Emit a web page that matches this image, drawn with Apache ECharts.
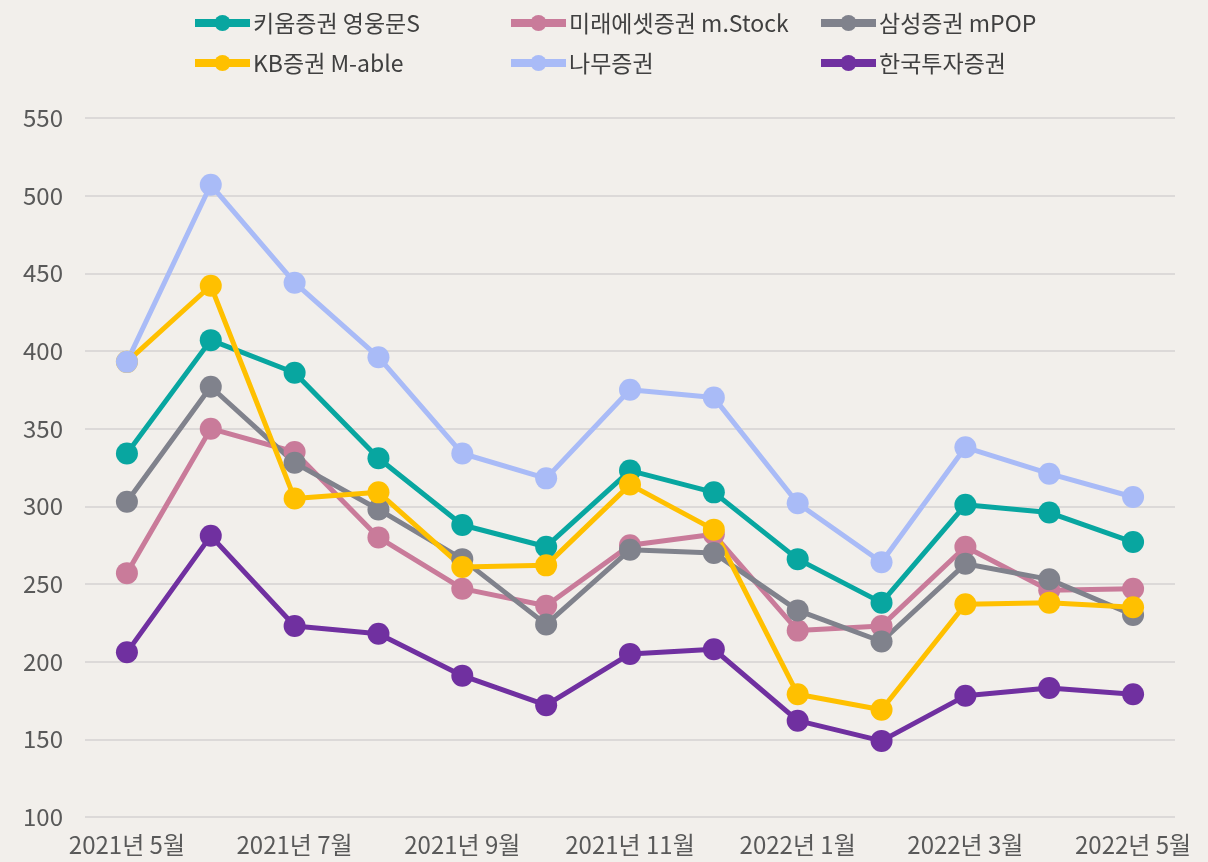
<!DOCTYPE html>
<html>
<head>
<meta charset="utf-8">
<script src="https://cdn.jsdelivr.net/npm/echarts@6/dist/echarts.min.js"></script>
<style>
  html, body { margin: 0; padding: 0; background: #f2efeb; }
  #chart { width: 1208px; height: 862px; }
</style>
</head>
<body>
<div id="chart"></div>
<script>
// 월별 카테고리
const months = ['2021년 5월', '2021년 6월', '2021년 7월', '2021년 8월', '2021년 9월', '2021년 10월', '2021년 11월',
  '2021년 12월', '2022년 1월', '2022년 2월', '2022년 3월', '2022년 4월', '2022년 5월']

const seriesNames = ['키움증권 영웅문S', '미래에셋증권 m.Stock', '삼성증권 mPOP', 'KB증권 M-able', '나무증권', '한국투자증권']

const kiwoom = [334, 407, 386, 331, 288, 274, 323, 309, 266, 238, 301, 296, 277]
const mirae = [257, 350, 335, 280, 247, 236, 275, 282, 220, 223, 274, 246, 247]
const samsung = [303, 377, 328, 298, 266, 224, 272, 270, 233, 213, 263, 253, 230]
const kb = [393, 442, 305, 309, 261, 262, 314, 285, 179, 169, 237, 238, 235]
const namu = [393, 507, 444, 396, 334, 318, 375, 370, 302, 264, 338, 321, 306]
const hantu = [206, 281, 223, 218, 191, 172, 205, 208, 162, 149, 178, 183, 179]

const yTicks = { min: 100, max: 550, interval: 50 }

const colors = ['#08a6a0', '#c97b9a', '#80828c', '#ffc000', '#a9bbf7', '#7030a0']
const font = '"Noto Sans CJK KR", "Noto Sans", sans-serif'

const chart = echarts.init(document.getElementById('chart'))

// 범례 공통 스타일 (3열 x 2행)
const legendBase = {
  orient: 'vertical',
  top: 4,
  itemWidth: 55,
  itemHeight: 20,
  itemGap: 12,
  lineStyle: { width: 8 },
  textStyle: { fontFamily: font, fontSize: 23, color: '#404040', lineHeight: 28, padding: [0, 0, 0, -2] }
}

const allData = [kiwoom, mirae, samsung, kb, namu, hantu]

const option = {
  backgroundColor: '#f2efeb',
  color: colors,
  legend: [
    Object.assign({}, legendBase, { left: 186, data: [seriesNames[0], seriesNames[3]] }),
    Object.assign({}, legendBase, { left: 502, data: [seriesNames[1], seriesNames[4]] }),
    Object.assign({}, legendBase, { left: 812, data: [seriesNames[2], seriesNames[5]] })
  ],
  grid: { left: 85, right: 33, top: 118, bottom: 45, containLabel: false },
  xAxis: {
    type: 'category',
    data: months,
    boundaryGap: true,
    axisLine: { show: false },
    axisTick: { show: false },
    axisLabel: {
      interval: 1,
      margin: 16,
      fontFamily: font,
      fontSize: 24,
      color: '#595959'
    }
  },
  yAxis: {
    type: 'value',
    min: yTicks.min,
    max: yTicks.max,
    interval: yTicks.interval,
    axisLine: { show: false },
    axisTick: { show: false },
    splitLine: { lineStyle: { color: '#dcd9d8', width: 2 } },
    axisLabel: {
      margin: 22,
      fontFamily: font,
      fontSize: 24,
      color: '#595959'
    }
  },
  series: allData.map((d, i) => ({
    name: seriesNames[i],
    type: 'line',
    data: d,
    symbol: 'circle',
    symbolSize: 22,
    lineStyle: { width: 5 },
    itemStyle: { color: colors[i] },
    emphasis: { disabled: true },
    animation: false
  }))
}

chart.setOption(option)
</script>
</body>
</html>
